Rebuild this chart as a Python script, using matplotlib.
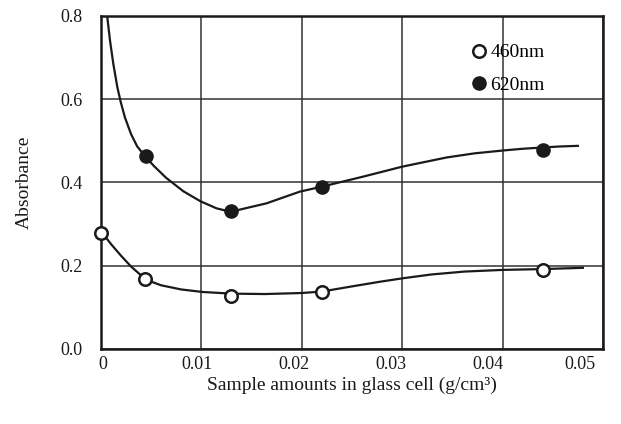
import numpy as np
import matplotlib
matplotlib.use('Agg')
import matplotlib.pyplot as plt
from matplotlib.transforms import ScaledTranslation

plt.rcParams['font.family'] = ['Liberation Serif', 'DejaVu Serif']

# measured points
x_pts_460 = [0.0, 0.0044, 0.013, 0.022, 0.044]
y_pts_460 = [0.279, 0.167, 0.128, 0.138, 0.189]
x_pts_620 = [0.0045, 0.013, 0.022, 0.044]
y_pts_620 = [0.464, 0.331, 0.388, 0.478]

# smooth curves
x_curve_460 = [0.0001, 0.0010, 0.0020, 0.0030, 0.0038, 0.00445, 0.0052, 0.0060, 0.0070,
               0.0080, 0.0101, 0.0130, 0.0163, 0.0200, 0.0220, 0.0249, 0.0279, 0.0301,
               0.0329, 0.0362, 0.0400, 0.0440, 0.0480]
y_curve_460 = [0.280, 0.252, 0.224, 0.198, 0.181, 0.169, 0.160, 0.153, 0.148,
               0.143, 0.137, 0.133, 0.132, 0.1345, 0.138, 0.150, 0.162, 0.170,
               0.179, 0.186, 0.190, 0.192, 0.195]
x_curve_620 = [0.00063, 0.00090, 0.00123, 0.00163, 0.00196, 0.00239, 0.0030, 0.0036,
               0.00445, 0.0053, 0.0065, 0.0082, 0.0099, 0.0115, 0.0125, 0.0135, 0.0165,
               0.0198, 0.0220, 0.0261, 0.0300, 0.0344, 0.0372, 0.0401, 0.0420, 0.0439,
               0.0457, 0.0475]
y_curve_620 = [0.797, 0.741, 0.685, 0.629, 0.594, 0.556, 0.516, 0.487,
               0.461, 0.439, 0.411, 0.379, 0.355, 0.338, 0.332, 0.333, 0.350,
               0.378, 0.390, 0.414, 0.438, 0.460, 0.470, 0.477, 0.481, 0.484,
               0.4865, 0.488]

x_ticks = [0, 0.01, 0.02, 0.03, 0.04, 0.05]
x_ticklabels = ['0', '0.01', '0.02', '0.03', '0.04', '0.05']
y_ticks = [0.0, 0.2, 0.4, 0.6, 0.8]
y_ticklabels = ['0.0', '0.2', '0.4', '0.6', '0.8']

fig = plt.figure(figsize=(6.21, 4.24), dpi=100)
ax = fig.add_axes([0.1626, 0.1769, 0.8084, 0.7854])

ink = '#1a1a1a'
ax.plot(x_curve_620, y_curve_620, color=ink, lw=1.6, zorder=3, solid_joinstyle='round')
ax.plot(x_curve_460, y_curve_460, color=ink, lw=1.6, zorder=3, solid_joinstyle='round')
ax.plot(x_pts_460, y_pts_460, 'o', ms=9, mfc='white', mec=ink, mew=1.8,
        zorder=4, clip_on=False, label='460nm')
ax.plot(x_pts_620, y_pts_620, 'o', ms=9.5, mfc=ink, mec=ink,
        zorder=4, clip_on=False, label='620nm')

ax.set_xlim(0, 0.05)
ax.set_ylim(0, 0.8)
ax.set_xticks(x_ticks)
ax.set_xticklabels(x_ticklabels)
ax.set_yticks(y_ticks)
ax.set_yticklabels(y_ticklabels)
ax.tick_params(length=0, labelsize=13, colors=ink)
ax.tick_params(axis='x', pad=5)
ax.tick_params(axis='y', pad=13)
ax.grid(True, color='#333333', lw=1.1)
ax.set_axisbelow(True)
for s in ax.spines.values():
    s.set_linewidth(1.8)
    s.set_color(ink)

# the original x labels drift slightly left of their grid lines
shifts = [2, -4, -8, -11, -15, -23]
for lab, dx in zip(ax.get_xticklabels(), shifts):
    lab.set_transform(lab.get_transform() + ScaledTranslation(dx / 100, 0, fig.dpi_scale_trans))

ax.set_xlabel('Sample amounts in glass cell (g/cm³)', fontsize=14, labelpad=3, color=ink)
ax.set_ylabel('Absorbance', fontsize=14, labelpad=20, color=ink)

leg = ax.legend(loc='upper left', bbox_to_anchor=(0.725, 0.94), frameon=False,
                fontsize=14, handlelength=0.6, handletextpad=0.3, labelspacing=0.75,
                borderaxespad=0)

fig.savefig('out.png', dpi=100, facecolor='white')
